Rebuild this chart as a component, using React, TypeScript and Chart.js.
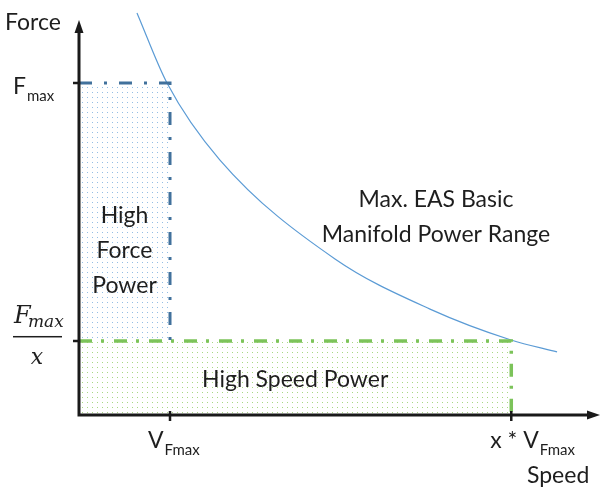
import React, { useEffect, useRef } from "react";
import { Chart, registerables } from "chart.js";

Chart.register(...registerables);

// Speed in units of V_Fmax, force in units of F_max
const xMax = 5.725;
const yMax = 1.25;
const xArrowTip = 5.725;
const yArrowTip = 1.19;
const vFmax = 1;
const xTimesV = 4.75;
const fMax = 1;
const fMaxOverX = 0.223;

const curveSpeed = [0.637, 0.967, 1.549, 2.813, 3.857, 4.747, 5.253];
const curveForce = [1.211, 1.0, 0.768, 0.47, 0.319, 0.226, 0.19];

const xTickValues = [vFmax, xTimesV];
const xTickMain = ["V", "x * V"];
const xTickSub = ["Fmax", "Fmax"];
const yTickValues = [fMax, fMaxOverX];

const highForceLines = ["High", "Force", "Power"];
const rangeLines = ["Max. EAS Basic", "Manifold Power Range"];
const highSpeedLabel = "High Speed Power";

const SANS = "Lato, 'Open Sans', sans-serif";
const SERIF = "'DejaVu Serif', 'Liberation Serif', serif";

function makeDots(color: string, w: number, h: number) {
  const c = document.createElement("canvas");
  c.width = w;
  c.height = h;
  const g = c.getContext("2d")!;
  g.fillStyle = color;
  g.fillRect(2, 2, 1, 1);
  return g.createPattern(c, "repeat")!;
}

export default function App() {
  const ref = useRef<HTMLCanvasElement | null>(null);
  useEffect(() => {
    document.body.style.margin = "0";
    const canvas = ref.current!;
    const bluePattern = makeDots("rgba(91,155,213,0.65)", 5, 5);
    const greenPattern = makeDots("rgba(130,200,80,0.7)", 5, 5);

    const overlay = {
      id: "overlay",
      afterDatasetsDraw(chart: any) {
        const ctx = chart.ctx as CanvasRenderingContext2D;
        const xs = chart.scales.x;
        const ys = chart.scales.y;
        const x0 = xs.getPixelForValue(0);
        const y0 = ys.getPixelForValue(0);
        const xt = xs.getPixelForValue(xArrowTip);
        const yt = ys.getPixelForValue(yArrowTip);
        ctx.save();
        ctx.strokeStyle = "#1a1a1a";
        ctx.fillStyle = "#1a1a1a";
        ctx.lineWidth = 3;
        ctx.lineCap = "butt";
        ctx.beginPath();
        ctx.moveTo(x0, y0 + 1.5);
        ctx.lineTo(x0, yt + 10);
        ctx.moveTo(x0 - 1.5, y0);
        ctx.lineTo(xt - 10, y0);
        ctx.stroke();
        ctx.beginPath();
        ctx.moveTo(x0, yt);
        ctx.lineTo(x0 - 4.5, yt + 13);
        ctx.lineTo(x0 + 4.5, yt + 13);
        ctx.closePath();
        ctx.fill();
        ctx.beginPath();
        ctx.moveTo(xt, y0);
        ctx.lineTo(xt - 13, y0 - 4.5);
        ctx.lineTo(xt - 13, y0 + 4.5);
        ctx.closePath();
        ctx.fill();
        ctx.lineWidth = 2.5;
        ctx.beginPath();
        xTickValues.forEach((v) => {
          const px = xs.getPixelForValue(v);
          ctx.moveTo(px, y0 - 4);
          ctx.lineTo(px, y0 + 6);
        });
        yTickValues.forEach((v) => {
          const py = ys.getPixelForValue(v);
          ctx.moveTo(x0 - 6, py);
          ctx.lineTo(x0, py);
        });
        ctx.stroke();

        ctx.fillStyle = "#1e1e1e";
        ctx.textBaseline = "alphabetic";
        const subLabel = (main: string, sub: string, left: number, base: number, mf: string, sf: string, dy: number) => {
          ctx.font = mf;
          ctx.textAlign = "left";
          ctx.fillText(main, left, base);
          const w = ctx.measureText(main).width;
          ctx.font = sf;
          ctx.fillText(sub, left + w + 1, base + dy);
        };
        const mainF = `23px ${SANS}`;
        const subF = `15px ${SANS}`;
        const offsets = [-22, -21];
        xTickValues.forEach((v, i) => {
          const px = xs.getPixelForValue(v);
          subLabel(xTickMain[i], xTickSub[i], px + offsets[i], y0 + 33, mainF, subF, 7);
        });
        subLabel("F", "max", x0 - 66, ys.getPixelForValue(fMax) + 11, mainF, subF, 7);
        const pyLow = ys.getPixelForValue(fMaxOverX);
        ctx.font = `italic 24px ${SERIF}`;
        ctx.fillText("F", x0 - 65, pyLow - 18);
        ctx.font = `italic 17px ${SERIF}`;
        ctx.fillText("max", x0 - 51, pyLow - 14);
        ctx.fillRect(x0 - 66, pyLow - 5, 49, 1.5);
        ctx.font = `italic 22px ${SERIF}`;
        ctx.textAlign = "center";
        ctx.fillText("x", x0 - 42, pyLow + 23);

        ctx.font = mainF;
        ctx.textAlign = "left";
        ctx.fillText("Force", 5, yt + 10);
        ctx.fillText("Speed", 527, y0 + 68);

        ctx.textAlign = "center";
        const cxForce = (xs.getPixelForValue(0) + xs.getPixelForValue(vFmax)) / 2;
        highForceLines.forEach((t, i) => {
          ctx.fillText(t, cxForce, 223 + i * 35);
        });
        const cxSpeed = (xs.getPixelForValue(0) + xs.getPixelForValue(xTimesV)) / 2;
        ctx.fillText(highSpeedLabel, cxSpeed, y0 - 28);
        rangeLines.forEach((t, i) => {
          ctx.fillText(t, 436, 207 + i * 35);
        });
        ctx.restore();
      },
    };

    const chart = new Chart(canvas, {
      type: "scatter",
      data: {
        datasets: [
          {
            data: [
              { x: 0, y: fMax },
              { x: vFmax, y: fMax },
            ],
            showLine: true,
            borderWidth: 0,
            pointRadius: 0,
            fill: { value: fMaxOverX },
            backgroundColor: bluePattern,
          },
          {
            data: [
              { x: 0, y: fMaxOverX },
              { x: xTimesV, y: fMaxOverX },
            ],
            showLine: true,
            borderWidth: 0,
            pointRadius: 0,
            fill: "origin",
            backgroundColor: greenPattern,
          },
          {
            data: [
              { x: 0, y: fMax },
              { x: vFmax, y: fMax },
              { x: vFmax, y: fMaxOverX },
            ],
            showLine: true,
            borderColor: "#41719c",
            borderWidth: 3,
            borderDash: [13, 12, 3, 12],
            pointRadius: 0,
            fill: false,
          },
          {
            data: [
              { x: 0, y: fMaxOverX },
              { x: xTimesV, y: fMaxOverX },
              { x: xTimesV, y: 0 },
            ],
            showLine: true,
            borderColor: "#7cc35a",
            borderWidth: 3.5,
            borderDash: [13, 9, 3, 10],
            pointRadius: 0,
            fill: false,
          },
          {
            data: curveSpeed.map((v, i) => ({ x: v, y: curveForce[i] })),
            showLine: true,
            borderColor: "#5b9bd5",
            borderWidth: 1.2,
            pointRadius: 0,
            cubicInterpolationMode: "monotone",
            fill: false,
            clip: false,
          } as any,
        ],
      },
      options: {
        responsive: false,
        animation: false,
        layout: { padding: { left: 79, right: 0, top: 0, bottom: 74 } },
        scales: {
          x: { type: "linear", min: 0, max: xMax, display: false },
          y: { type: "linear", min: 0, max: yMax, display: false },
        },
        plugins: { legend: { display: false }, tooltip: { enabled: false } },
      },
      plugins: [overlay],
    });
    return () => chart.destroy();
  }, []);
  return (
    <div style={{ width: 600, height: 489, background: "#fff" }}>
      <canvas ref={ref} width={600} height={489} />
    </div>
  );
}
